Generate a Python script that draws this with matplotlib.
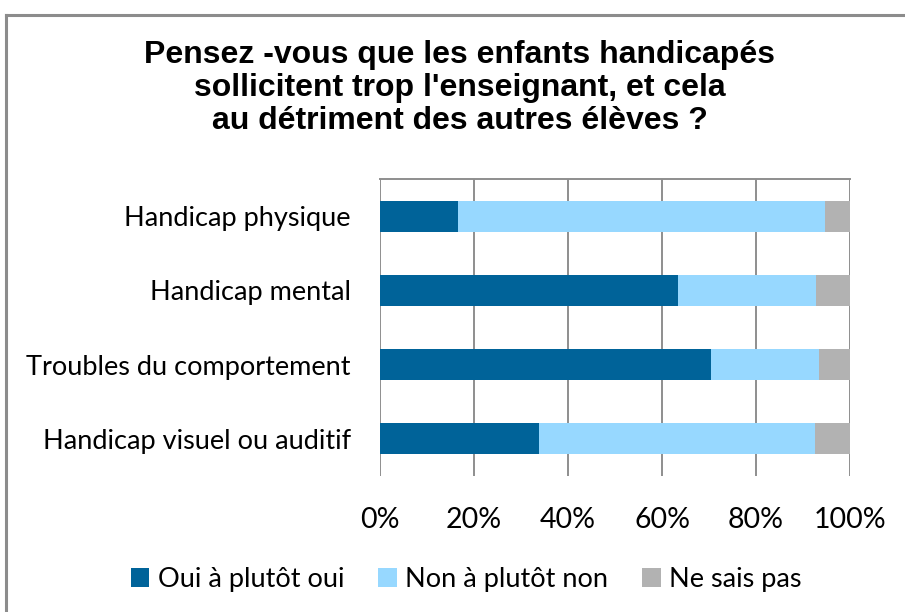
import numpy as np
import matplotlib
matplotlib.use('Agg')
from matplotlib import pyplot as plt
from matplotlib.lines import Line2D
from matplotlib.patches import Patch

title = "Pensez -vous que les enfants handicapés\nsollicitent trop l'enseignant, et cela\nau détriment des autres élèves ?"
categories = ['Handicap physique', 'Handicap mental', 'Troubles du comportement',
              'Handicap visuel ou auditif']
series_names = ['Oui à plutôt oui', 'Non à plutôt non', 'Ne sais pas']
oui = [16.7, 63.3, 70.4, 33.8]
non = [78.0, 29.5, 22.9, 58.7]
nsp = [5.3, 7.2, 6.7, 7.5]
xticks = [0, 20, 40, 60, 80, 100]
xtick_labels = ['0%', '20%', '40%', '60%', '80%', '100%']

colors = ['#006399', '#97D8FF', '#B2B2B2']
grid_col = '#8E8E8E'
label_font = 'Lato'

fig = plt.figure(figsize=(9.05, 6.12), dpi=100)
fig.patch.set_facecolor('white')

# chart frame (cropped screenshot: only top and left edges visible)
fig.add_artist(Line2D([6 / 905, 1.0], [1 - 15 / 612, 1 - 15 / 612], color='#8C8C8C', lw=2.2,
                      transform=fig.transFigure))
fig.add_artist(Line2D([6 / 905, 6 / 905], [0, 1 - 15 / 612], color='#8C8C8C', lw=2.2,
                      transform=fig.transFigure))

ax = fig.add_axes([380 / 905, 1 - 476 / 612, 470 / 905, 297 / 612])

y = np.arange(len(categories))
left = np.zeros(len(categories))
for vals, name, col in zip([oui, non, nsp], series_names, colors):
    ax.barh(y, vals, left=left, height=0.42, color=col, label=name, zorder=3)
    left += np.array(vals)

ax.set_xlim(0, 100)
ax.set_ylim(len(categories) - 0.5, -0.5)
ax.set_xticks(xticks)
ax.set_xticklabels(xtick_labels, fontsize=20.5, family=label_font)
ax.set_yticks(y)
ax.set_yticklabels(categories, fontsize=19.5, family=label_font)
ax.tick_params(axis='x', length=0, pad=22)
ax.tick_params(axis='y', length=0, pad=21)
ax.grid(axis='x', color=grid_col, lw=1.4, zorder=0)

for side in ['left', 'right', 'bottom']:
    ax.spines[side].set_visible(False)
ax.spines['top'].set_color(grid_col)
ax.spines['top'].set_linewidth(1.4)

fig.text(0.508, 1 - 40 / 612, title, ha='center', va='top', fontsize=23,
         fontweight='bold', family='Liberation Sans', linespacing=1.13)

handles = [Patch(facecolor=c, edgecolor='none') for c in colors]
fig.legend(handles, series_names, loc='center', bbox_to_anchor=(466 / 905, 1 - 579 / 612),
           ncol=3, frameon=False, prop={'family': label_font, 'size': 19.5},
           handlelength=0.7, handleheight=0.7, handletextpad=0.3, columnspacing=1.25)

fig.savefig('out.png', dpi=100, facecolor='white')
